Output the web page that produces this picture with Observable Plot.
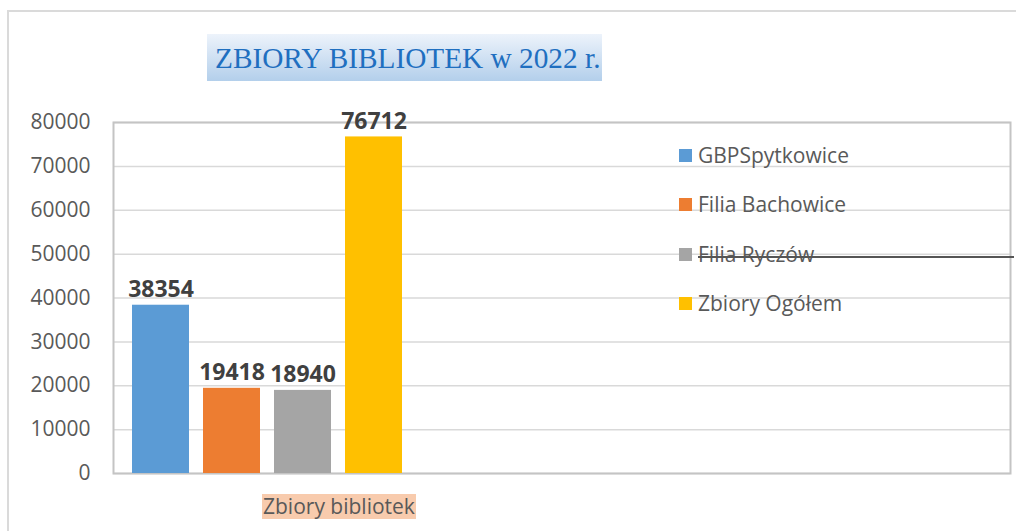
<!DOCTYPE html>
<html>
<head>
<meta charset="utf-8">
<script src="https://cdn.jsdelivr.net/npm/d3@7"></script>
<script src="https://cdn.jsdelivr.net/npm/@observablehq/plot@0.6"></script>
<style>
  html, body { margin: 0; padding: 0; background: #fff; }
  #wrap { position: relative; width: 1016px; height: 531px; overflow: hidden; font-family: "Open Sans", sans-serif; }
  #outer { position: absolute; left: 7px; top: 10px; width: 1100px; height: 600px; border: 2px solid #dadada; }
  #chart { position: absolute; left: 0; top: 0; }
  #title { position: absolute; left: 207px; top: 34px; width: 395px; height: 47px;
           background: linear-gradient(#edf3fb, #b3cfeb); color: #1f6fc0;
           font-family: "Liberation Serif", serif; font-size: 29.3px; line-height: 48px;
           padding-left: 8px; box-sizing: border-box; white-space: nowrap; }
  #legend { position: absolute; left: 679px; top: 0; }
  .row { position: absolute; left: 0; height: 26px; display: flex; align-items: center; white-space: nowrap;
         font-size: 21px; color: #595959; }
  .sw { width: 13px; height: 13px; margin-right: 6px; flex: none; }
  #strike { position: absolute; left: 698px; top: 256px; width: 316px; height: 2px; background: #555; }
  #cat { position: absolute; left: 262px; top: 494px; height: 25px; line-height: 25px; background: #f8cbad;
         color: #595959; font-size: 21px; padding: 0 1px; white-space: nowrap; }
</style>
</head>
<body>
<div id="wrap">
  <div id="outer"></div>
  <div id="chart"></div>
  <div id="title"></div>
  <div id="legend"></div>
  <div id="strike"></div>
  <div id="cat"></div>
</div>
<script>
const titleText = "ZBIORY BIBLIOTEK w 2022 r.";
const category = "Zbiory bibliotek";
const series = ["GBPSpytkowice", "Filia Bachowice", "Filia Ryczów", "Zbiory Ogółem"];
const values = [38354, 19418, 18940, 76712];
const colors = ["#5b9bd5", "#ed7d31", "#a5a5a5", "#ffc000"];
const yTicks = [0, 10000, 20000, 30000, 40000, 50000, 60000, 70000, 80000];

const data = series.map((s, i) => ({series: s, value: values[i]}));

const plot = Plot.plot({
  width: 1016,
  height: 531,
  marginTop: 122,
  marginBottom: 58,
  marginLeft: 113,
  marginRight: 6,
  style: {fontFamily: "'Open Sans', sans-serif", background: "transparent"},
  x: {domain: series, range: [118, 416], paddingInner: 0.197, paddingOuter: 0.197, axis: null},
  y: {domain: [0, 80000], ticks: yTicks, tickFormat: d3.format("d"), label: null},
  color: {domain: series, range: colors},
  marks: [
    Plot.gridY(yTicks, {stroke: "#d9d9d9", strokeOpacity: 1, strokeWidth: 1.5}),
    Plot.frame({stroke: "#c4c4c4", strokeWidth: 2}),
    Plot.axisY(yTicks, {tickSize: 0, tickPadding: 23, fontSize: 21, fill: "#595959", tickFormat: d3.format("d"), label: null}),
    Plot.barY(data, {x: "series", y: "value", fill: "series"}),
    Plot.text(data, {x: "series", y: "value", text: d => String(d.value), dy: -8, lineAnchor: "bottom",
                     fontSize: 23, fontWeight: "bold", fill: "#404040"})
  ]
});
document.getElementById("chart").appendChild(plot);

document.getElementById("title").textContent = titleText;
document.getElementById("cat").textContent = category;
const legend = document.getElementById("legend");
const rowCenters = [155, 204, 254, 303];
series.forEach((s, i) => {
  const row = document.createElement("div");
  row.className = "row";
  row.style.top = (rowCenters[i] - 13) + "px";
  const sw = document.createElement("div");
  sw.className = "sw";
  sw.style.background = colors[i];
  const t = document.createElement("span");
  t.textContent = s;
  row.appendChild(sw);
  row.appendChild(t);
  legend.appendChild(row);
});
</script>
</body>
</html>
